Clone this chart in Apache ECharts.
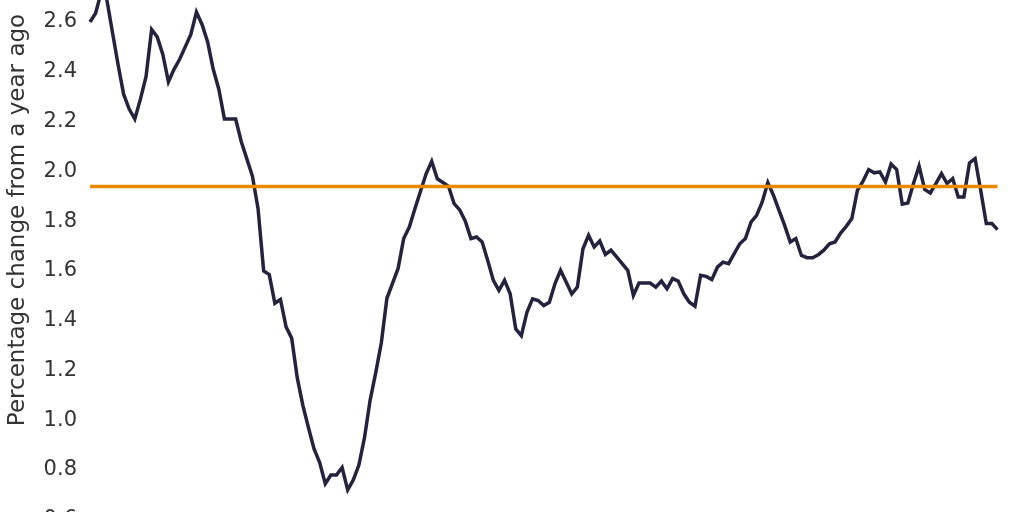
<!DOCTYPE html>
<html>
<head>
<meta charset="utf-8">
<script src="https://cdn.jsdelivr.net/npm/echarts@6/dist/echarts.min.js"></script>
<style>
html,body{margin:0;padding:0;background:#fff;}
#chart{width:1024px;height:512px;}
</style>
</head>
<body>
<div id="chart"></div>
<script>
// Percentage change from a year ago (monthly observations, left to right)
const values = [
  2.60, 2.635, 2.72, 2.69, 2.56, 2.43, 2.31, 2.25, 2.21, 2.29,
  2.38, 2.57, 2.54, 2.47, 2.36, 2.41, 2.45, 2.50, 2.55, 2.64,
  2.59, 2.52, 2.41, 2.33, 2.21, 2.21, 2.21, 2.12, 2.05, 1.98,
  1.85, 1.60, 1.585, 1.47, 1.485, 1.375, 1.33, 1.17, 1.06, 0.97,
  0.885, 0.83, 0.745, 0.78, 0.78, 0.81, 0.72, 0.76, 0.82, 0.93,
  1.08, 1.19, 1.31, 1.49, 1.55, 1.61, 1.73, 1.776, 1.85, 1.92,
  1.99, 2.04, 1.97, 1.955, 1.94, 1.87, 1.845, 1.80, 1.73, 1.736,
  1.716, 1.642, 1.562, 1.522, 1.562, 1.508, 1.367, 1.34, 1.434, 1.488,
  1.481, 1.461, 1.474, 1.548, 1.602, 1.555, 1.507, 1.535, 1.689, 1.743,
  1.696, 1.72, 1.666, 1.683, 1.656, 1.629, 1.602, 1.501, 1.551, 1.551,
  1.551, 1.535, 1.559, 1.528, 1.569, 1.559, 1.508, 1.474, 1.458, 1.582,
  1.578, 1.565, 1.615, 1.635, 1.629, 1.669, 1.709, 1.73, 1.796, 1.823,
  1.877, 1.955, 1.904, 1.843, 1.783, 1.716, 1.73, 1.662, 1.653, 1.653,
  1.665, 1.683, 1.709, 1.716, 1.752, 1.779, 1.81, 1.924, 1.961, 2.007,
  1.994, 1.998, 1.957, 2.029, 2.007, 1.868, 1.873, 1.951, 2.021, 1.927,
  1.913, 1.951, 1.991, 1.951, 1.971, 1.897, 1.897, 2.034, 2.051, 1.924,
  1.79, 1.79, 1.766
];
const categories = values.map((v, i) => String(i + 1));
const referenceLevel = 1.94;
const yTicks = [0.6, 0.8, 1.0, 1.2, 1.4, 1.6, 1.8, 2.0, 2.2, 2.4, 2.6];
const axisTitle = 'Percentage change from a year ago';

const chart = echarts.init(document.getElementById('chart'), null, {renderer: 'canvas'});
chart.setOption({
  animation: false,
  backgroundColor: '#ffffff',
  grid: {left: 90, right: 26.5, top: -2.9, bottom: -7.8, containLabel: false, outerBoundsMode: 'none'},
  xAxis: {
    type: 'category',
    data: categories,
    boundaryGap: false,
    show: false
  },
  yAxis: {
    type: 'value',
    min: yTicks[0],
    max: 2.7,
    interval: 0.2,
    axisLine: {show: false},
    axisTick: {show: false},
    splitLine: {show: false},
    axisLabel: {
      showMaxLabel: false,
      margin: 13,
      padding: [4, 0, 0, 0],
      color: '#333333',
      fontFamily: 'DejaVu Sans',
      fontSize: 21,
      formatter: function (v) {
        const t = yTicks.find(x => Math.abs(x - v) < 1e-6);
        return t === undefined ? '' : t.toFixed(1);
      }
    }
  },
  graphic: [{
    type: 'text',
    x: 18,
    y: 220,
    rotation: Math.PI / 2,
    style: {
      text: axisTitle,
      fill: '#333333',
      font: '23px "DejaVu Sans"',
      textAlign: 'center',
      textVerticalAlign: 'middle'
    }
  }],
  series: [{
    type: 'line',
    data: values,
    showSymbol: false,
    symbol: 'none',
    lineStyle: {color: '#25223d', width: 3.5, join: 'miter'},
    z: 2,
    markLine: {
      silent: true,
      symbol: 'none',
      label: {show: false},
      lineStyle: {color: '#ea8a00', width: 3.3, type: 'solid'},
      data: [{yAxis: referenceLevel}],
      z: 5
    }
  }]
});
</script>
</body>
</html>
